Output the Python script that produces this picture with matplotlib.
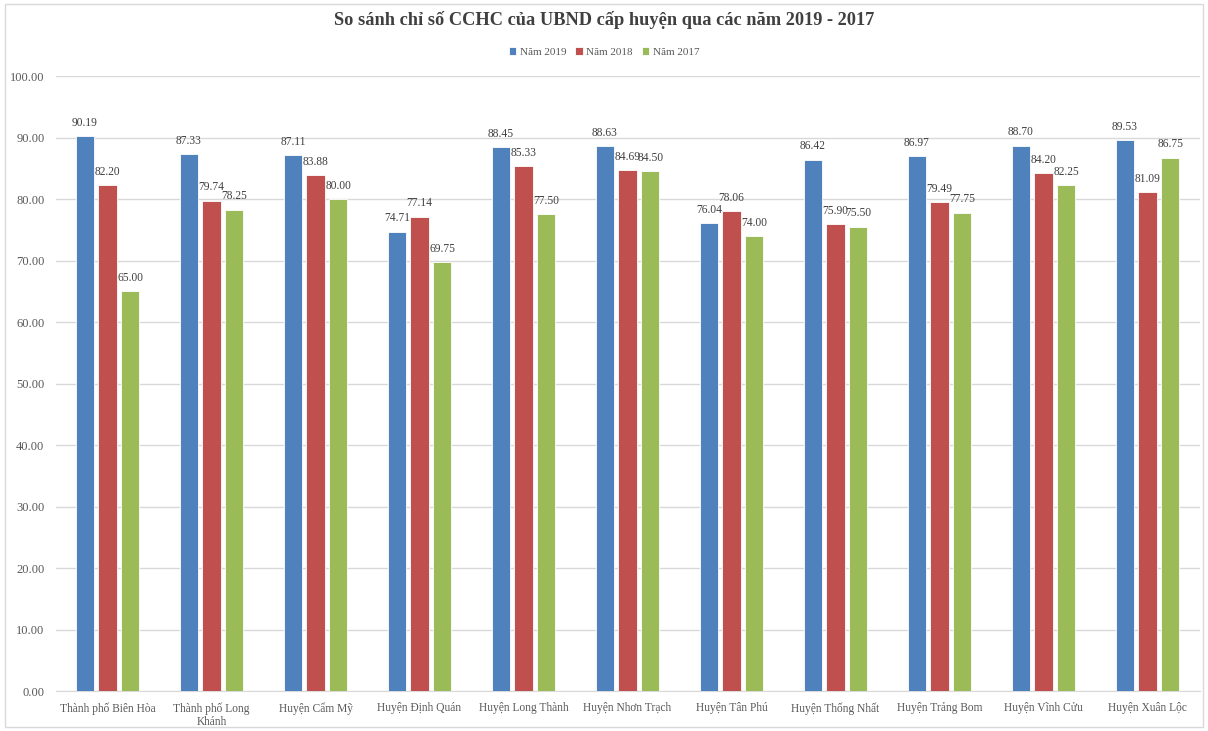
import numpy as np
import matplotlib.pyplot as plt
from matplotlib.patches import Rectangle

plt.rcParams['font.family'] = ['Liberation Serif', 'DejaVu Serif']

categories = ['Thành phố Biên Hòa', 'Thành phố Long\nKhánh', 'Huyện Cẩm Mỹ',
              'Huyện Định Quán', 'Huyện Long Thành', 'Huyện Nhơn Trạch',
              'Huyện Tân Phú', 'Huyện Thống Nhất', 'Huyện Trảng Bom',
              'Huyện Vĩnh Cửu', 'Huyện Xuân Lộc']
nam_2019 = [90.19, 87.33, 87.11, 74.71, 88.45, 88.63, 76.04, 86.42, 86.97, 88.70, 89.53]
nam_2018 = [82.20, 79.74, 83.88, 77.14, 85.33, 84.69, 78.06, 75.90, 79.49, 84.20, 81.09]
nam_2017 = [65.00, 78.25, 80.00, 69.75, 77.50, 84.50, 74.00, 75.50, 77.75, 82.25, 86.75]
series_names = ['Năm 2019', 'Năm 2018', 'Năm 2017']
colors = ['#4F81BD', '#C0504D', '#9BBB59']

fig = plt.figure(figsize=(12.08, 7.31), dpi=100)
ax = fig.add_axes([0.046, 0.0547, 0.947, 0.8413])

x = np.arange(len(categories))
w = 0.175
step = 0.218
for i, (vals, name, c) in enumerate(zip([nam_2019, nam_2018, nam_2017], series_names, colors)):
    pos = x + (i - 1) * step
    ax.bar(pos, vals, width=w, color=c, edgecolor='white', linewidth=0.6, label=name, zorder=3)
    for px, v in zip(pos, vals):
        ax.text(px, v + 1.2, f'{v:.2f}', ha='center', va='bottom', fontsize=8.3, color='#404040')

ax.set_ylim(0, 100)
ax.set_xlim(-0.5, len(categories) - 0.5)
ax.set_yticks(np.arange(0, 101, 10))
ax.set_yticklabels([f'{t:.2f}' for t in np.arange(0, 101, 10)], fontsize=9, color='#595959')
ax.set_xticks(x)
ax.set_xticklabels(categories, fontsize=8.3, color='#595959')
ax.tick_params(length=0, pad=8)
ax.yaxis.grid(True, color='#D9D9D9', linewidth=1, zorder=0)
for s in ['top', 'right', 'left']:
    ax.spines[s].set_visible(False)
ax.spines['bottom'].set_color('#D9D9D9')

fig.text(0.5, 0.972, 'So sánh chỉ số CCHC của UBND cấp huyện qua các năm 2019 - 2017',
         ha='center', va='center', fontsize=13.2, fontweight='bold', color='#404040')
fig.legend(loc='center', bbox_to_anchor=(0.5, 0.929), ncol=3, frameon=False,
           fontsize=8, handlelength=0.7, handleheight=0.7, handletextpad=0.3,
           columnspacing=0.8, labelcolor='#595959')

fig.patches.append(Rectangle((0.004, 0.006), 0.992, 0.988, transform=fig.transFigure,
                             fill=False, edgecolor='#D9D9D9', linewidth=1))

plt.savefig('out.png', dpi=100)
